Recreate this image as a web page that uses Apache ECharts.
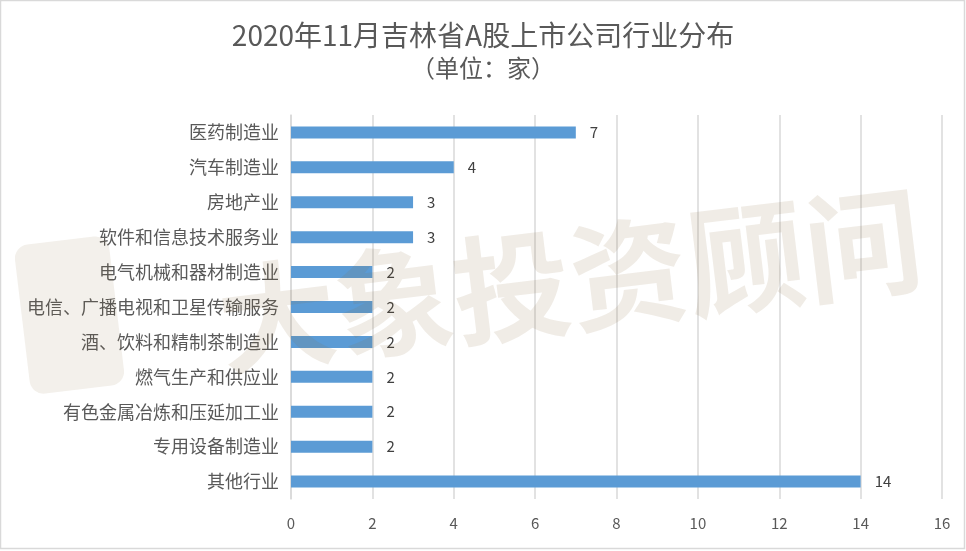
<!DOCTYPE html>
<html>
<head>
<meta charset="utf-8">
<script src="https://cdn.jsdelivr.net/npm/echarts@6/dist/echarts.min.js"></script>
<style>html,body{margin:0;padding:0;background:#fff}#c{width:966px;height:551px}</style>
</head>
<body>
<div id="c"></div>
<script>
const categories = ['医药制造业','汽车制造业','房地产业','软件和信息技术服务业','电气机械和器材制造业','电信、广播电视和卫星传输服务','酒、饮料和精制茶制造业','燃气生产和供应业','有色金属冶炼和压延加工业','专用设备制造业','其他行业'];
const values = [7,4,3,3,2,2,2,2,2,2,14];
const titleText = '2020年11月吉林省A股上市公司行业分布';
const subtitleText = '（单位：家）';
const watermark = '大象投资顾问';

const chart = echarts.init(document.getElementById('c'), null, {renderer:'canvas'});
const font = '"Noto Sans CJK SC", "Noto Sans", sans-serif';
chart.setOption({
  animation:false,
  backgroundColor:'#fff',
  title:{
    text: '{a|' + titleText + '}\n{b|' + subtitleText + '}',
    left:'center', top:13,
    textStyle:{
      fontWeight:'normal',
      rich:{
        a:{fontFamily:font, fontSize:28, fontWeight:'normal', color:'#595959', lineHeight:34, align:'center'},
        b:{fontFamily:font, fontSize:24, fontWeight:'normal', color:'#595959', lineHeight:32, align:'center'}
      }
    }
  },
  grid:{left:291, right:24, top:115, bottom:52, containLabel:false},
  xAxis:{
    type:'value', min:0, max:16, interval:2,
    axisLine:{show:false}, axisTick:{show:false},
    axisLabel:{fontFamily:font, fontSize:15, color:'#595959', margin:17},
    splitLine:{lineStyle:{color:'#d9d9d9', width:1.5}}
  },
  yAxis:{
    type:'category', data:categories, inverse:true,
    axisLine:{show:true, lineStyle:{color:'#d9d9d9', width:1.5}},
    axisTick:{show:false},
    axisLabel:{fontFamily:font, fontSize:18, color:'#595959', margin:12}
  },
  series:[{
    type:'bar', data:values, barWidth:12,
    itemStyle:{color:'#5b9bd5'},
    label:{show:true, position:'right', distance:14, fontFamily:font, fontSize:15, color:'#404040'}
  }],
  graphic:[
    {type:'rect', shape:{x:0.5,y:0.5,width:964,height:548}, style:{fill:'none', stroke:'#d9d9d9', lineWidth:1.5}, silent:true, z:-10},
    {type:'rect', shape:{x:22,y:240,width:95,height:150,r:14}, rotation:0.12, originX:70, originY:315, style:{fill:'#8b6a3e', opacity:0.1}, silent:true, z:100},
    {type:'text', x:570, y:280, rotation:0.12, style:{text:watermark, font:'bold 118px "Noto Sans CJK SC"', fill:'#8b6a3e', opacity:0.13, align:'center', verticalAlign:'middle'}, silent:true, z:100}
  ]
});
</script>
</body>
</html>
